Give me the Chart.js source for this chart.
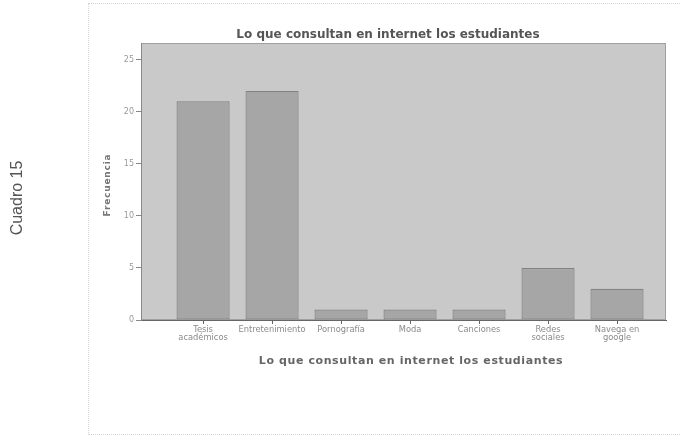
<!DOCTYPE html>
<html lang="es">
<head>
  <meta charset="UTF-8" />
  <title>Cuadro 15</title>
  <script src="https://cdn.jsdelivr.net/npm/chart.js"></script>
  <style>
    body { margin: 0; background: #fff; }
    #wrap { position: relative; width: 680px; height: 438px; overflow: hidden; }
    #marco { position: absolute; left: 88px; top: 3px; width: 600px; height: 432px; border: 1px dotted #d4d4d4; box-sizing: border-box; }
    canvas { position: absolute; left: 0; top: 0; }
    .txt { position: absolute; white-space: nowrap; }
    #titulo { left: 388px; top: 27px; transform: translateX(-50%); font: bold 12px "DejaVu Sans", sans-serif; color: #555; }
    #tituloX { left: 411px; top: 354px; transform: translateX(-50%); font: bold 11px "DejaVu Sans", sans-serif; color: #666; letter-spacing: 0.6px; }
    #tituloY { left: 107px; top: 185px; transform: translate(-50%, -50%) rotate(-90deg); font: bold 9px "DejaVu Sans", sans-serif; color: #777; letter-spacing: 0.8px; }
    #cuadro { left: 17px; top: 198px; transform: translate(-50%, -50%) rotate(-90deg); font: 16px "Liberation Sans", Arial, sans-serif; color: #555; }
  </style>
</head>
<body>
  <div id="wrap">
    <div id="marco"></div>
    <canvas id="grafico" width="680" height="438"></canvas>
    <div class="txt" id="titulo">Lo que consultan en internet los estudiantes</div>
    <div class="txt" id="tituloX">Lo que consultan en internet los estudiantes</div>
    <div class="txt" id="tituloY">Frecuencia</div>
    <div class="txt" id="cuadro">Cuadro 15</div>
  </div>

  <script>
    const categorias = ["Tesis académicos", "Entretenimiento", "Pornografía", "Moda", "Canciones", "Redes sociales", "Navega en google"];
    const etiquetas = [["Tesis", "académicos"], ["Entretenimiento"], ["Pornografía"], ["Moda"], ["Canciones"], ["Redes", "sociales"], ["Navega en", "google"]];
    const frecuencias = [21, 22, 1, 1, 1, 5, 3];
    const ticksY = [0, 5, 10, 15, 20, 25];

    // fondo gris del area de trazado
    const fondoPlot = {
      id: 'fondoPlot',
      beforeDraw(chart) {
        const { ctx, chartArea: a } = chart;
        ctx.save();
        ctx.fillStyle = '#c9c9c9';
        ctx.fillRect(a.left, a.top, a.right - a.left, a.bottom - a.top);
        ctx.strokeStyle = '#a0a0a0';
        ctx.lineWidth = 1;
        ctx.strokeRect(a.left + 0.5, a.top + 0.5, a.right - a.left - 1, a.bottom - a.top - 1);
        ctx.restore();
      }
    };

    function generarGrafico() {
      new Chart(document.getElementById("grafico").getContext("2d"), {
        type: 'bar',
        data: {
          datasets: [{
            data: frecuencias.map((v, i) => ({ x: i, y: v })),
            backgroundColor: '#a6a6a6',
            borderColor: '#828282',
            borderWidth: 1.2,
            borderSkipped: false,
            barPercentage: 0.77,
            categoryPercentage: 1
          }]
        },
        options: {
          responsive: false,
          animation: false,
          layout: { padding: { top: 43, left: 111, right: 14, bottom: 88 } },
          plugins: { legend: { display: false }, tooltip: { enabled: false } },
          scales: {
            x: {
              type: 'linear',
              offset: false,
              min: -0.9,
              max: 6.71,
              afterBuildTicks: s => { s.ticks = categorias.map((c, i) => ({ value: i })); },
              afterFit: s => { s.height = 30; },
              ticks: {
                autoSkip: false,
                maxRotation: 0,
                padding: 1,
                color: '#8a8a8a',
                font: { family: 'DejaVu Sans', size: 8.3, lineHeight: 1.05 },
                callback: v => etiquetas[v]
              },
              grid: { offset: false, drawOnChartArea: false, drawTicks: true, tickLength: 4, color: '#666', tickColor: '#666' },
              border: { color: '#666' }
            },
            y: {
              min: 0,
              max: 26.6,
              afterBuildTicks: s => { s.ticks = ticksY.map(v => ({ value: v })); },
              afterFit: s => { s.width = 30; },
              ticks: {
                color: '#9a9a9a',
                padding: 2,
                font: { family: 'DejaVu Sans', size: 8 }
              },
              grid: { drawOnChartArea: false, tickLength: 5, color: '#888', tickColor: '#888' },
              border: { color: '#888' }
            }
          }
        },
        plugins: [fondoPlot]
      });
    }

    window.onload = generarGrafico;
  </script>
</body>
</html>
